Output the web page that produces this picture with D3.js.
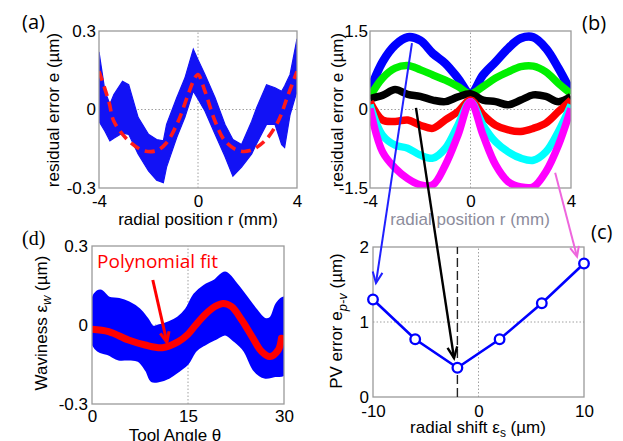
<!DOCTYPE html>
<html><head><meta charset="utf-8">
<script src="https://cdn.jsdelivr.net/npm/d3@7"></script>
<style>
html,body{margin:0;padding:0;background:#fff;}
svg{display:block;font-family:"Liberation Sans",Arial,sans-serif;}
</style></head><body>
<svg id="chart" width="623" height="441"></svg>
<script>
// ---------- Panel (a): residual error band + dashed fit ----------
const aR     = [-4.0,-3.76,-3.56,-3.4,-3.05,-2.8,-2.42,-2.0,-1.67,-1.4,-1.27,-0.86,-0.53,-0.19,0.0,0.28,0.69,1.09,1.41,1.76,2.17,2.37,2.77,3.11,3.38,3.5,3.72,4.0];
const aUpper = [0.22,0.07,0.02,0.057,0.108,0.095,-0.03,-0.095,-0.115,-0.12,-0.057,0.045,0.12,0.23,0.19,0.134,0.045,-0.057,-0.115,-0.134,-0.045,0.007,0.095,0.083,0.07,0.09,0.134,0.27];
const aLower = [-0.045,-0.083,-0.12,-0.11,-0.09,-0.095,-0.17,-0.235,-0.27,-0.28,-0.22,-0.107,-0.03,0.07,0.04,-0.006,-0.095,-0.18,-0.255,-0.22,-0.17,-0.13,-0.057,-0.057,-0.134,-0.145,-0.02,0.07];
const aFitR  = [-4.0,-3.6,-3.4,-2.8,-2.2,-1.67,-1.27,-0.8,-0.4,-0.13,0.0,0.28,0.69,1.09,1.63,2.1,2.7,3.24,3.6,4.0];
const aFit   = [0.146,0.03,-0.045,-0.12,-0.157,-0.157,-0.127,-0.045,0.057,0.12,0.134,0.07,-0.045,-0.12,-0.157,-0.157,-0.12,-0.045,0.045,0.146];

// ---------- Panel (b): residual error for different radial shifts ----------
const bR       = [-4,-3.5,-3,-2.5,-2,-1.5,-1,-0.5,0,0.5,1,1.5,2,2.5,3,3.5,4];
const bBlue    = [0.37,0.91,1.23,1.38,1.32,1.07,0.88,0.6,0.3,0.66,0.91,1.17,1.36,1.38,1.17,0.79,0.34];
const bGreen   = [0.25,0.6,0.79,0.84,0.76,0.66,0.56,0.44,0.3,0.44,0.6,0.72,0.82,0.83,0.72,0.5,0.3];
const bBlack   = [0.21,0.27,0.38,0.29,0.25,0.18,0.15,0.24,0.3,0.18,0.15,0.09,0.18,0.28,0.25,0.15,0.25];
const bRed     = [0.15,-0.2,-0.23,-0.2,-0.3,-0.36,-0.2,-0.04,0.18,-0.1,-0.3,-0.39,-0.42,-0.36,-0.26,-0.04,0.18];
const bCyan    = [0.09,-0.49,-0.68,-0.74,-0.87,-0.93,-0.74,-0.3,0.15,-0.3,-0.62,-0.81,-0.93,-0.97,-0.81,-0.42,0.09];
const bMagenta = [0.02,-0.81,-1.12,-1.32,-1.44,-1.44,-1.06,-0.49,0.15,-0.49,-1.06,-1.38,-1.48,-1.48,-1.19,-0.68,0.02];
const bSeries  = [
  {name:"blue",    values:bBlue,    color:"#0000ff"},
  {name:"green",   values:bGreen,   color:"#00f000"},
  {name:"black",   values:bBlack,   color:"#000000"},
  {name:"red",     values:bRed,     color:"#ff0000"},
  {name:"cyan",    values:bCyan,    color:"#00ffff"},
  {name:"magenta", values:bMagenta, color:"#ff00ff"}
];

// ---------- Panel (c): PV error vs radial shift ----------
const cShift = [-10,-6,-2,2,6,10];
const cPV    = [1.30,0.77,0.39,0.77,1.25,1.78];
const cBest  = -2;

// ---------- Panel (d): waviness band + polynomial fit ----------
const dThetaU = [0,0.5,1.3,2.6,4.2,5.7,7.3,8.6,9.4,10.4,12,13.5,14.8,16.1,17.6,19.2,20.8,22.3,23.9,25.5,27.0,28.0,29.0,30];
const dUpper  = [0.07,0.114,0.127,0.10,0.095,0.082,0.057,0.019,-0.009,-0.006,0.006,0.025,0.057,0.114,0.146,0.165,0.196,0.158,0.108,0.057,0.019,0.025,0.08,0.10];
const dThetaL = [0,1,2.6,4.2,5.7,7.3,8.6,9.4,10.4,12,13.5,14.8,16.1,17.6,19.2,20.8,22.3,23.9,25.5,27,28.6,30];
const dLower  = [-0.057,-0.095,-0.108,-0.127,-0.127,-0.133,-0.171,-0.21,-0.21,-0.196,-0.171,-0.146,-0.095,-0.07,-0.05,-0.032,-0.057,-0.095,-0.171,-0.196,-0.19,-0.184];
const dFitTheta = [0,2.6,5.7,8.3,11,13.5,15.0,16.1,17.6,19.2,20.5,21.8,23.4,25,26.5,27.8,29.1,29.6];
const dFit      = [-0.016,-0.025,-0.057,-0.076,-0.086,-0.063,-0.035,-0.003,0.038,0.07,0.082,0.07,0.019,-0.044,-0.101,-0.12,-0.095,-0.05];

// ---------- tick labels ----------
const aXTicks = [-4,0,4], aYTicks = [-0.3,0,0.3];
const bXTicks = [-4,0,4], bYTicks = [-1.5,0,1.5];
const cXTicks = [-10,0,10], cYTicks = [0,1,2];
const dXTicks = [0,15,30], dYTicks = [-0.3,0,0.3];

const svg = d3.select("#chart");
const TICK_FS = 17;

function panel(id, xd, yd, xr, yr, xt, yt, gx, gy, padX, padY) {
  const x = d3.scaleLinear().domain(xd).range(xr);
  const y = d3.scaleLinear().domain(yd).range(yr);
  const g = svg.append("g");
  g.append("clipPath").attr("id", "clip-" + id)
    .append("rect").attr("x", xr[0]).attr("y", yr[1]).attr("width", xr[1]-xr[0]).attr("height", yr[0]-yr[1]);
  // grid
  g.append("line").attr("x1", x(gx)).attr("x2", x(gx)).attr("y1", yr[0]).attr("y2", yr[1])
    .attr("stroke", "#a0a0a0").attr("stroke-width", 1).attr("stroke-dasharray", "1.5,2");
  g.append("line").attr("x1", xr[0]).attr("x2", xr[1]).attr("y1", y(gy)).attr("y2", y(gy))
    .attr("stroke", "#a0a0a0").attr("stroke-width", 1).attr("stroke-dasharray", "1.5,2");
  const plot = g.append("g").attr("clip-path", "url(#clip-" + id + ")");
  // frame
  g.append("rect").attr("x", xr[0]).attr("y", yr[1]).attr("width", xr[1]-xr[0]).attr("height", yr[0]-yr[1])
    .attr("fill", "none").attr("stroke", "#9a9a9a").attr("stroke-width", 1.3);
  // axes
  const ax = g.append("g").attr("transform", `translate(0,${yr[0]})`)
    .call(d3.axisBottom(x).tickValues(xt).tickSize(0).tickPadding(padX).tickFormat(d => String(d)));
  const ay = g.append("g").attr("transform", `translate(${xr[0]},0)`)
    .call(d3.axisLeft(y).tickValues(yt).tickSize(0).tickPadding(padY).tickFormat(d => String(d)));
  [ax, ay].forEach(a => {
    a.select(".domain").remove();
    a.attr("font-size", TICK_FS).attr("font-family", '"Liberation Sans",Arial,sans-serif');
    a.selectAll("text").attr("fill", "#000");
  });
  return {x, y, g, plot, ax, ay};
}

function arrow(p0, p1, color, w, head) {
  const ang = Math.atan2(p1[1]-p0[1], p1[0]-p0[0]);
  const a1 = ang + Math.PI - 0.42, a2 = ang + Math.PI + 0.42;
  svg.append("line").attr("x1", p0[0]).attr("y1", p0[1]).attr("x2", p1[0]).attr("y2", p1[1])
    .attr("stroke", color).attr("stroke-width", w);
  svg.append("path")
    .attr("d", `M${p1[0]+head*Math.cos(a1)},${p1[1]+head*Math.sin(a1)}L${p1[0]},${p1[1]}L${p1[0]+head*Math.cos(a2)},${p1[1]+head*Math.sin(a2)}`)
    .attr("fill", "none").attr("stroke", color).attr("stroke-width", w).attr("stroke-linejoin", "miter");
}

function ylabel(x, y, parts) {
  const t = svg.append("text").attr("transform", `translate(${x},${y}) rotate(-90)`)
    .attr("text-anchor", "middle").attr("font-size", 17);
  parts(t);
  return t;
}

// ===== Panel (a) =====
const A = panel("a", [-4,4], [-0.3,0.3], [99,297], [188,31], aXTicks, aYTicks, 0, 0, 7, 3);
const aBand = aR.map((r,i) => ({r, u:aUpper[i], l:aLower[i]}));
A.plot.append("path").datum(aBand)
  .attr("d", d3.area().x(d => A.x(d.r)).y0(d => A.y(d.l)).y1(d => A.y(d.u)).curve(d3.curveLinear))
  .attr("fill", "#1212f5").attr("stroke", "#1212f5").attr("stroke-width", 1.2);
A.plot.append("path").datum(aFitR.map((r,i) => ({r, e:aFit[i]})))
  .attr("d", d3.line().x(d => A.x(d.r)).y(d => A.y(d.e)).curve(d3.curveCatmullRom.alpha(0.5)))
  .attr("fill", "none").attr("stroke", "#ff1a1a").attr("stroke-width", 3.6).attr("stroke-dasharray", "10,6");
svg.append("text").attr("x", 198).attr("y", 225).attr("text-anchor", "middle").attr("font-size", 17)
  .text("radial position r (mm)");
ylabel(59, 110, t => { t.text("residual error e (µm)"); });

// ===== Panel (b) =====
const B = panel("b", [-4,4], [-1.5,1.5], [370,571], [188,31], bXTicks, bYTicks, 0, 0, 7, 2);
const bLine = d3.line().x((d,i) => B.x(bR[i])).y(d => B.y(d)).curve(d3.curveCatmullRom.alpha(0.5));
B.plot.selectAll("path.series").data(bSeries).join("path").attr("class", "series")
  .attr("d", s => bLine(s.values)).attr("fill", "none")
  .attr("stroke", s => s.color).attr("stroke-width", s => s.name === "blue" ? 8.5 : 7.5)
  .attr("stroke-linejoin", "round");
svg.append("text").attr("x", 470).attr("y", 225).attr("text-anchor", "middle").attr("font-size", 17)
  .attr("fill", "#8c8c9c").text("radial position r (mm)");
ylabel(343, 110, t => { t.text("residual error e (µm)"); });

// ===== Panel (c) =====
const C = panel("c", [-10,10], [0,2], [373,584], [397,247], cXTicks, cYTicks, 0, 1, 8, 4);
C.g.append("line").attr("x1", C.x(cBest)).attr("x2", C.x(cBest)).attr("y1", 397).attr("y2", 247)
  .attr("stroke", "#222").attr("stroke-width", 1.4).attr("stroke-dasharray", "9,4");
const cPts = cShift.map((s,i) => ({s, v:cPV[i]}));
C.g.append("path").datum(cPts)
  .attr("d", d3.line().x(d => C.x(d.s)).y(d => C.y(d.v)))
  .attr("fill", "none").attr("stroke", "#0000ff").attr("stroke-width", 2.6);
C.g.selectAll("circle").data(cPts).join("circle")
  .attr("cx", d => C.x(d.s)).attr("cy", d => C.y(d.v)).attr("r", 4.8)
  .attr("fill", "#fff").attr("stroke", "#0000ff").attr("stroke-width", 2.3);
svg.append("text").attr("x", 478).attr("y", 433).attr("text-anchor", "middle").attr("font-size", 17)
  .call(t => {
    t.append("tspan").text("radial shift ε");
    t.append("tspan").attr("font-size", 12).attr("dy", 4).text("s");
    t.append("tspan").attr("dy", -4).text(" (µm)");
  });
ylabel(342, 321, t => {
  t.append("tspan").text("PV error e");
  t.append("tspan").attr("font-size", 13).attr("dy", 5).attr("font-style", "italic").text("p-v");
  t.append("tspan").attr("dy", -5).text(" (µm)");
});

// ===== Panel (d) =====
const D = panel("d", [0,30], [-0.3,0.3], [92,284], [404,246], dXTicks, dYTicks, 15, 0, 6, 4);
const dUpPts = dThetaU.map((t,i) => [D.x(t), D.y(dUpper[i])]);
const dLoPts = dThetaL.map((t,i) => [D.x(t), D.y(dLower[i])]).reverse();
D.plot.append("path")
  .attr("d", d3.line().curve(d3.curveCatmullRomClosed.alpha(0.5))(dUpPts.concat(dLoPts)))
  .attr("fill", "#0000ff").attr("stroke", "#0000ff").attr("stroke-width", 4).attr("stroke-linejoin", "round");
D.plot.append("path").datum(dFitTheta.map((t,i) => ({t, w:dFit[i]})))
  .attr("d", d3.line().x(d => D.x(d.t)).y(d => D.y(d.w)).curve(d3.curveCatmullRom.alpha(0.5)))
  .attr("fill", "none").attr("stroke", "#ff0000").attr("stroke-width", 7).attr("stroke-linecap", "round");
svg.append("text").attr("x", 175).attr("y", 441).attr("text-anchor", "middle").attr("font-size", 17)
  .text("Tool Angle θ");
ylabel(47, 323, t => {
  t.append("tspan").text("Waviness  ε");
  t.append("tspan").attr("font-size", 13).attr("dy", 4).attr("font-style", "italic").text("w");
  t.append("tspan").attr("dy", -4).text(" (µm)");
});
svg.append("text").attr("x", D.x(0.8)).attr("y", D.y(0.217)).attr("font-size", 19).attr("fill", "#ff0000")
  .attr("font-family", '"Open Sans","Liberation Sans",sans-serif').text("Polynomial fit");

// ===== annotation arrows (data space of the panels they link) =====
arrow([D.x(9.5), D.y(0.171)], [D.x(11.7), D.y(-0.065)], "#ff0000", 3, 11);
arrow([B.x(-2.33), B.y(1.27)], [C.x(-9.72), C.y(1.52)], "#2020ff", 2, 12);
arrow([B.x(-2.17), B.y(0.03)], [C.x(-2.32), C.y(0.52)], "#000000", 2.4, 12);
arrow([B.x(3.37), B.y(-1.21)], [C.x(9.34), C.y(1.87)], "#ee66dd", 2, 11);

// ===== panel labels =====
const lbl = (x, y, s, fam) => svg.append("text").attr("x", x).attr("y", y).attr("font-size", 20)
  .attr("font-family", fam || '"Open Sans","Liberation Sans",sans-serif').text(s);
lbl(22, 29, "(a)");
lbl(582, 30, "(b)");
lbl(591, 239, "(c)");
lbl(22, 245, "(d)", '"Liberation Serif",serif');
</script>
</body></html>
